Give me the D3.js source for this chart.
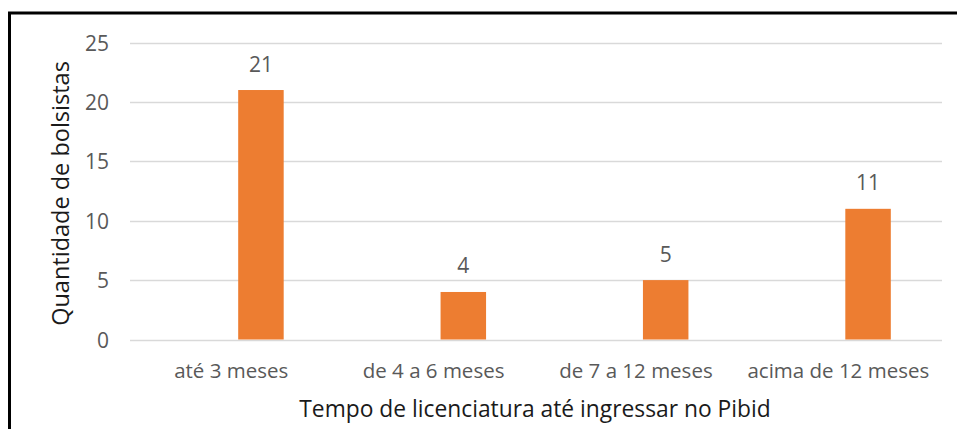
<!DOCTYPE html>
<html><head><meta charset="utf-8">
<script src="https://cdn.jsdelivr.net/npm/d3@7"></script>
<style>html,body{margin:0;padding:0;background:#fff;}svg{display:block;font-family:"Open Sans",sans-serif;}</style>
</head><body>
<svg id="chart" width="957" height="429"></svg>
<script>
const categories = ["até 3 meses", "de 4 a 6 meses", "de 7 a 12 meses", "acima de 12 meses"];
const values = [21, 4, 5, 11];
const yTicks = [0, 5, 10, 15, 20, 25];
const xTitle = "Tempo de licenciatura até ingressar no Pibid";
const yTitle = "Quantidade de bolsistas";

const svg = d3.select("#chart");
const mLeft = 130, mRight = 939.5, mTop = 42.5, mBottom = 339.5;

const x = d3.scaleBand().domain(categories).range([mLeft, mRight]).paddingInner(0).paddingOuter(0);
const y = d3.scaleLinear().domain([0, 25]).range([mBottom, mTop]);

// frame (left and top edges visible)
svg.append("path").attr("d", `M9.5,429 V13 H957`).attr("fill", "none").attr("stroke", "#000").attr("stroke-width", 3);

// gridlines
svg.append("g").selectAll("line").data(yTicks).join("line")
  .attr("x1", mLeft).attr("x2", mRight + 2.5)
  .attr("y1", d => Math.round(y(d)) + 0.5).attr("y2", d => Math.round(y(d)) + 0.5)
  .attr("stroke", "#d9d9d9").attr("stroke-width", 1.3);

// y tick labels
const yAxis = d3.axisLeft(y).tickValues(yTicks).tickSize(0).tickPadding(0);
const yg = svg.append("g").attr("transform", `translate(109,0)`).call(yAxis);
yg.select(".domain").remove();
yg.selectAll("text").attr("fill", "#595959").attr("font-size", 21).attr("font-family", "Open Sans").attr("dy", "0.36em");

// bars (second series in cluster; first series empty)
const barW = 45.5, barOff = 7;
const cx = d => x(d) + x.bandwidth() / 2;
svg.append("g").selectAll("rect").data(values).join("rect")
  .attr("x", (d, i) => cx(categories[i]) + barOff)
  .attr("width", barW)
  .attr("y", d => y(d))
  .attr("height", d => y(0) - y(d))
  .attr("fill", "#ED7D31");

// data labels
svg.append("g").selectAll("text").data(values).join("text")
  .attr("x", (d, i) => cx(categories[i]) + barOff + barW / 2)
  .attr("y", d => y(d) - 18.5)
  .attr("text-anchor", "middle")
  .attr("fill", "#595959").attr("font-size", 21)
  .text(d => d);

// x category labels
const xAxis = d3.axisBottom(x).tickSize(0).tickPadding(0);
const xg = svg.append("g").attr("transform", `translate(0,${mBottom})`).call(xAxis);
xg.select(".domain").remove();
xg.selectAll("text").attr("fill", "#595959").attr("font-size", 20.5).attr("font-family", "Open Sans").attr("dy", "0").attr("y", 38.5);

// axis titles
svg.append("text").attr("x", 535).attr("y", 417).attr("text-anchor", "middle")
  .attr("fill", "#1a1a1a").attr("font-size", 22.8).text(xTitle);
svg.append("text").attr("transform", "translate(68.5,193.5) rotate(-90)").attr("text-anchor", "middle")
  .attr("fill", "#1a1a1a").attr("font-size", 23.5).text(yTitle);
</script>
</body></html>
